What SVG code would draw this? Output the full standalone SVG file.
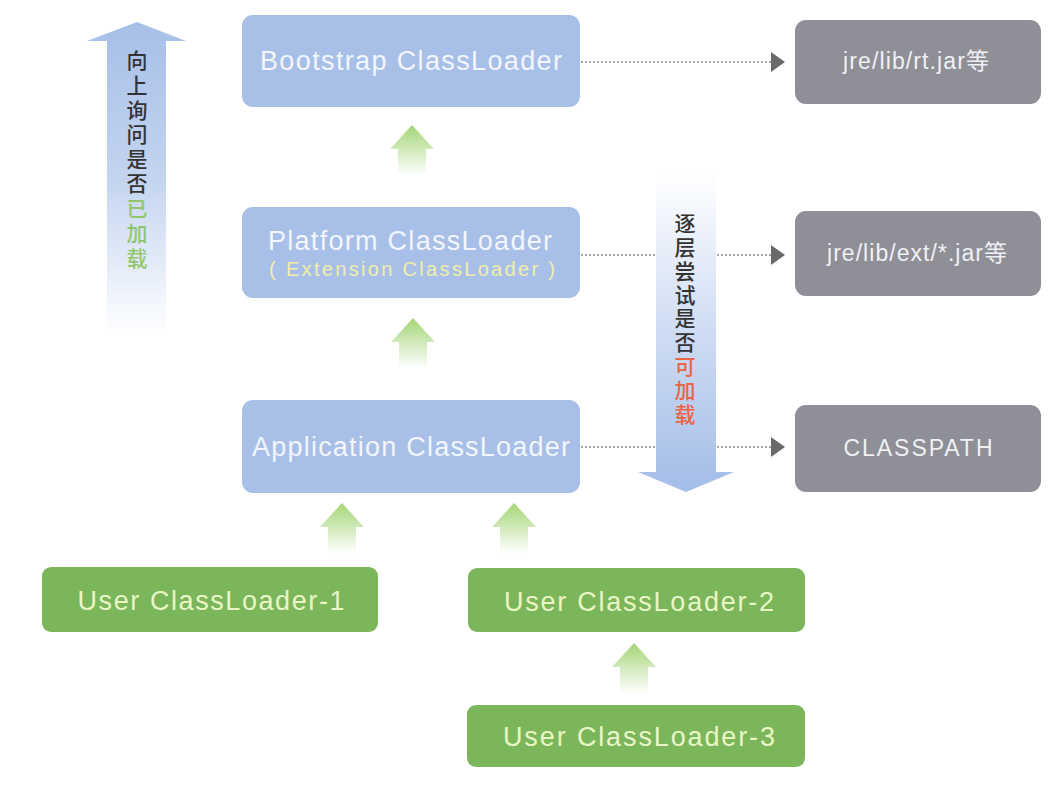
<svg xmlns="http://www.w3.org/2000/svg" width="1054" height="788" viewBox="0 0 1054 788">
<style>
.blue{fill:#a8c0e7}
.grey{fill:#8f8f97}
.green{fill:#7cb65a}
.lat{font-family:"Liberation Sans","Noto Sans CJK SC",Arial,sans-serif}
.bt{fill:#f2f5fb;font-size:27px;text-anchor:middle}
.ext{fill:#f2eea8;font-size:20px;text-anchor:middle}
.gt{fill:#f0f0f2;font-size:23px;text-anchor:middle}
.ut{fill:#eaf5c6;font-size:27px;text-anchor:middle}
.cjk{font-family:"Noto Sans CJK SC","Noto Sans",sans-serif;font-size:21px;font-weight:500;fill:#333;writing-mode:vertical-rl;letter-spacing:3.6px}
.g{fill:#92c66c}
.r{fill:#ea6446}
.conn{stroke:#8a8a8a;stroke-width:1.3;stroke-dasharray:2 2;fill:none}
</style>
<defs>
<linearGradient id="gUp" x1="0" y1="0" x2="0" y2="1">
<stop offset="0" stop-color="#a6bfe8"/>
<stop offset="0.5" stop-color="#c4d4f0"/>
<stop offset="1" stop-color="#ffffff"/>
</linearGradient>
<linearGradient id="gDown" x1="0" y1="0" x2="0" y2="1">
<stop offset="0" stop-color="#ffffff"/>
<stop offset="0.5" stop-color="#cfdcf3"/>
<stop offset="1" stop-color="#a3bde8"/>
</linearGradient>
<linearGradient id="gGreen" x1="0" y1="0" x2="0" y2="1">
<stop offset="0" stop-color="#a4d576"/>
<stop offset="0.45" stop-color="#cde8b4"/>
<stop offset="1" stop-color="#ffffff"/>
</linearGradient>
<path id="garrow" d="M0,0 L22,24 L14,24 L14,50 L-14,50 L-14,24 L-22,24 Z" fill="url(#gGreen)"/>
<marker id="tri" markerUnits="userSpaceOnUse" markerWidth="16" markerHeight="22" refX="14" refY="10" orient="auto" viewBox="0 0 16 22">
<path d="M0,0 L14,10 L0,20 Z" fill="#6a6a6a"/>
</marker>
</defs>
<rect width="1054" height="788" fill="#ffffff"/>

<g id="connectors">
<line class="conn" x1="581" y1="62" x2="785" y2="62" marker-end="url(#tri)"/>
<line class="conn" x1="581" y1="255" x2="785" y2="255" marker-end="url(#tri)"/>
<line class="conn" x1="581" y1="447" x2="785" y2="447" marker-end="url(#tri)"/>
<use href="#garrow" x="412" y="125"/>
<use href="#garrow" x="413" y="318"/>
<use href="#garrow" x="342" y="503"/>
<use href="#garrow" x="514" y="503"/>
<use href="#garrow" x="634" y="643"/>
</g>

<g id="arrow-up">
<path d="M137,22 L186,41 L166,41 L166,336 L107,336 L107,41 L87,41 Z" fill="url(#gUp)"/>
<text class="cjk" x="137" y="50">向上询问是否<tspan class="g">已加载</tspan></text>
</g>

<g id="arrow-down">
<path d="M656,172 L716,172 L716,472 L734,472 L686,492 L638,472 L656,472 Z" fill="url(#gDown)"/>
<text class="cjk" x="685" y="213" style="letter-spacing:2.75px">逐层尝试是否<tspan class="r">可加载</tspan></text>
</g>

<g id="bootstrap">
<rect class="blue" x="242" y="15" width="338" height="92" rx="11"/>
<text class="lat bt" x="411" y="69.5" textLength="302" lengthAdjust="spacing">Bootstrap ClassLoader</text>
</g>
<g id="platform">
<rect class="blue" x="242" y="207" width="338" height="91" rx="11"/>
<text class="lat bt" x="410" y="249.5" textLength="284" lengthAdjust="spacing">Platform ClassLoader</text>
<text class="lat ext" x="412" y="276" textLength="286" lengthAdjust="spacing">( Extension ClassLoader )</text>
</g>
<g id="application">
<rect class="blue" x="242" y="400" width="338" height="93" rx="11"/>
<text class="lat bt" x="411" y="456" textLength="318" lengthAdjust="spacing">Application ClassLoader</text>
</g>

<g id="rtjar">
<rect class="grey" x="795" y="20" width="246" height="84" rx="11"/>
<text class="lat gt" x="916" y="69" textLength="146" lengthAdjust="spacing">jre/lib/rt.jar等</text>
</g>
<g id="extjar">
<rect class="grey" x="795" y="211" width="246" height="85" rx="11"/>
<text class="lat gt" x="917" y="261" textLength="180" lengthAdjust="spacing">jre/lib/ext/*.jar等</text>
</g>
<g id="classpath">
<rect class="grey" x="795" y="405" width="246" height="87" rx="11"/>
<text class="lat gt" x="918" y="456" textLength="149" lengthAdjust="spacing">CLASSPATH</text>
</g>

<g id="user1">
<rect class="green" x="42" y="567" width="336" height="65" rx="9"/>
<text class="lat ut" x="211" y="610" textLength="267" lengthAdjust="spacing">User ClassLoader-1</text>
</g>
<g id="user2">
<rect class="green" x="468" y="568" width="337" height="64" rx="9"/>
<text class="lat ut" x="639" y="611" textLength="270" lengthAdjust="spacing">User ClassLoader-2</text>
</g>
<g id="user3">
<rect class="green" x="467" y="705" width="338" height="62" rx="9"/>
<text class="lat ut" x="639" y="746" textLength="272" lengthAdjust="spacing">User ClassLoader-3</text>
</g>
</svg>
